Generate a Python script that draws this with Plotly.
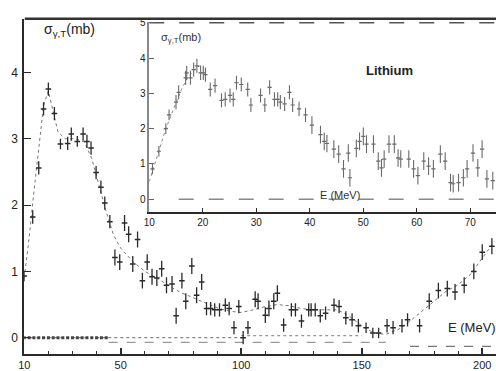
import plotly.graph_objects as go

# ---------------- data ----------------
main_E = [10, 13.5, 16, 18, 20, 22.5, 25, 28, 29.5, 32, 34.4, 36, 37.7, 39.8, 41.8,
          43.4, 45.5, 47.6, 49.6, 51.6, 53.3, 55, 57, 59, 61, 63, 65, 67, 69, 71.3,
          73, 75.4, 77, 79.5, 81.5, 83.6, 85.6, 87.3, 89, 91, 93.4, 95, 97, 99, 100.8,
          102.8, 105.8, 107, 110, 111.5, 113.5, 115, 117.6, 120.8, 122.5, 125, 128, 129,
          130.7, 132.8, 135, 138.5, 140.6, 143.4, 146, 148.6, 151.8, 154.6, 157, 160.5,
          163, 166.7, 169, 174, 178, 181.8, 185.5, 188.7, 192.5, 196.5, 200, 204]
main_sigma = [0.93, 1.82, 2.56, 3.45, 3.75, 3.38, 2.92, 2.93, 3.07, 2.96, 3.07, 2.96, 2.86,
              2.49, 2.27, 2.03, 1.75, 1.21, 1.14, 1.73, 1.56, 1.11, 1.48, 0.86, 1.14, 0.92,
              0.90, 1.04, 0.79, 0.81, 0.33, 0.86, 0.55, 1.08, 0.64, 0.84, 0.44, 0.44, 0.42,
              0.42, 0.49, 0.44, 0.15, 0.47, 0.0, 0.15, 0.58, 0.55, 0.34, 0.44, 0.55, 0.67,
              0.19, 0.42, 0.42, 0.25, 0.42, 0.42, 0.42, 0.33, 0.37, 0.49, 0.47, 0.30, 0.27,
              0.18, 0.15, 0.07, 0.07, 0.18, 0.15, 0.18, 0.27, 0.18, 0.55, 0.71, 0.74, 0.69,
              0.79, 1.0, 1.29, 1.38]
main_err = [0.08, 0.1, 0.1, 0.1, 0.1, 0.1, 0.08, 0.1, 0.1, 0.08, 0.1, 0.1, 0.1, 0.1, 0.1,
            0.1, 0.1, 0.12, 0.12, 0.12, 0.12, 0.12, 0.12, 0.12, 0.12, 0.12, 0.12, 0.12, 0.12,
            0.12, 0.12, 0.12, 0.12, 0.12, 0.12, 0.12, 0.1, 0.1, 0.1, 0.1, 0.1, 0.1, 0.1, 0.1,
            0.1, 0.1, 0.12, 0.12, 0.12, 0.12, 0.12, 0.12, 0.1, 0.1, 0.1, 0.1, 0.1, 0.1, 0.1,
            0.1, 0.1, 0.1, 0.1, 0.1, 0.1, 0.1, 0.08, 0.08, 0.08, 0.1, 0.1, 0.1, 0.1, 0.1,
            0.12, 0.12, 0.12, 0.12, 0.12, 0.12, 0.12, 0.12]

fit_E = [10, 12, 14, 16, 18, 20, 22, 24, 27, 31, 35, 38, 41, 44, 47, 50, 55, 60, 65, 70,
         75, 80, 85, 90, 95, 100, 105, 110, 115, 120, 125, 130, 135, 140, 145, 150, 155,
         160, 165, 170, 175, 180, 185, 190, 195, 200, 205]
fit_sigma = [0.9, 1.5, 2.2, 2.9, 3.5, 3.72, 3.4, 3.1, 3.0, 3.0, 2.95, 2.7, 2.3, 1.9, 1.55,
             1.35, 1.15, 1.0, 0.9, 0.78, 0.68, 0.6, 0.52, 0.45, 0.4, 0.38, 0.42, 0.47, 0.5,
             0.48, 0.44, 0.42, 0.42, 0.42, 0.32, 0.18, 0.07, 0.05, 0.12, 0.25, 0.4, 0.55,
             0.7, 0.8, 0.95, 1.2, 1.45]

bkg_E = [10, 12, 14, 16, 18, 20, 22, 24, 26, 28, 30, 32, 34, 36, 38, 40, 42, 44]
bkg_sigma = [0, 0, 0, 0, 0, 0, 0, 0, 0, 0, 0, 0, 0, 0, 0, 0, 0, 0]

base1_E = [10, 100]
base1_sigma = [0.0, 0.0]
base2_E = [45, 160]
base2_sigma = [-0.07, -0.07]
base3_E = [100, 150]
base3_sigma = [0.03, 0.03]
base4_E = [170, 206]
base4_sigma = [-0.13, -0.13]

inset_E = [10.6, 11.8, 13.1, 13.7, 15, 15.5, 16.8, 17, 17.7, 18.3, 18.9, 19.6, 20.1, 20.5,
           21.4, 22.3, 23.5, 24.2, 25.1, 25.7, 26.3, 27.2, 28.4, 29, 30.8, 31.6, 32.5, 33.4,
           34, 34.5, 35.3, 36.2, 36.8, 38, 39.2, 40.4, 42, 42.7, 43.2, 44.5, 45.4, 46.3,
           47.2, 47.5, 48.7, 49.3, 50, 50.6, 51.9, 52.8, 53.4, 53.9, 54.8, 55.8, 56.5, 57,
           58.5, 59.4, 60.2, 61.3, 62.2, 63.1, 64.4, 65.3, 66.3, 66.8, 67.8, 68.7, 69.4,
           70.5, 71.4, 72.2, 73.1, 74.2]
inset_sigma = [0.86, 1.36, 2.0, 2.39, 2.75, 3.03, 3.44, 3.58, 3.44, 3.67, 3.78, 3.58, 3.58,
               3.53, 3.11, 3.22, 2.8, 2.83, 2.94, 2.83, 3.3, 3.25, 3.11, 2.67, 2.94, 2.67,
               3.17, 2.83, 2.83, 2.75, 2.7, 3.03, 2.67, 2.56, 2.39, 2.1, 1.83, 1.64, 1.58,
               1.42, 1.28, 0.86, 1.31, 0.61, 1.44, 1.64, 1.78, 1.56, 1.56, 1.08, 0.89, 1.14,
               1.56, 1.56, 1.17, 1.14, 1.14, 0.86, 0.67, 1.08, 0.94, 0.86, 1.28, 1.08, 0.47,
               0.44, 0.47, 0.61, 0.86, 1.31, 0.89, 1.42, 0.58, 0.53]
inset_err = [0.15, 0.15, 0.15, 0.15, 0.2, 0.2, 0.2, 0.2, 0.2, 0.2, 0.2, 0.2, 0.2, 0.2,
             0.2, 0.2, 0.2, 0.2, 0.2, 0.2, 0.2, 0.2, 0.2, 0.2, 0.2, 0.2, 0.2, 0.2,
             0.2, 0.2, 0.2, 0.2, 0.2, 0.2, 0.2, 0.25, 0.25, 0.25, 0.25, 0.25, 0.25, 0.25,
             0.25, 0.25, 0.25, 0.25, 0.25, 0.25, 0.25, 0.25, 0.25, 0.25, 0.25, 0.25, 0.25,
             0.25, 0.25, 0.25, 0.25, 0.25, 0.25, 0.25, 0.25, 0.25, 0.25, 0.25, 0.25, 0.25,
             0.25, 0.25, 0.25, 0.25, 0.25, 0.25]

inset_fit_E = [10, 11, 12, 13, 14, 15, 16, 17, 18, 19, 20]
inset_fit_sigma = [0.5, 1.0, 1.5, 1.95, 2.35, 2.75, 3.1, 3.4, 3.6, 3.75, 3.8]

inset_zero_E = [15.5, 75]
inset_zero_sigma = [0, 0]
inset_top_E = [10, 75]
inset_top_sigma = [5, 5]

main_xticks = [10, 50, 100, 150, 200]
main_xminor = [20, 30, 40, 60, 70, 80, 90, 110, 120, 130, 140, 160, 170, 180, 190]
main_yticks = [0, 1, 2, 3, 4]
inset_xticks = [10, 20, 30, 40, 50, 60, 70]
inset_yticks = [0, 1, 2, 3, 4, 5]

# ---------------- figure ----------------
W, H = 496, 371
fig = go.Figure()

dark = "#2a2a2a"
grey = "#6a6a6a"

# main plot
fig.add_trace(go.Scatter(x=fit_E, y=fit_sigma, mode="lines",
                         line=dict(color="#777", width=1, dash="dot"),
                         xaxis="x", yaxis="y", hoverinfo="skip"))
for xs, ys, col, dash in [(base1_E, base1_sigma, "#888", "dot"),
                          (base2_E, base2_sigma, "#999", "dash"),
                          (base3_E, base3_sigma, "#999", "dot"),
                          (base4_E, base4_sigma, "#777", "dash")]:
    fig.add_trace(go.Scatter(x=xs, y=ys, mode="lines",
                             line=dict(color=col, width=1.2, dash=dash),
                             xaxis="x", yaxis="y", hoverinfo="skip"))
fig.add_trace(go.Scatter(x=bkg_E, y=bkg_sigma, mode="markers",
                         marker=dict(symbol="square", size=3, color="#444"),
                         xaxis="x", yaxis="y"))
fig.add_trace(go.Scatter(x=main_E, y=main_sigma, mode="markers",
                         marker=dict(symbol="line-ew", size=4,
                                     line=dict(width=1.5, color=dark)),
                         error_y=dict(type="data", array=main_err, color=dark,
                                      thickness=1.3, width=0),
                         xaxis="x", yaxis="y"))

# inset
fig.add_trace(go.Scatter(x=inset_zero_E, y=inset_zero_sigma, mode="lines",
                         line=dict(color="#888", width=1.5, dash="longdash"),
                         xaxis="x2", yaxis="y2", hoverinfo="skip"))
fig.add_trace(go.Scatter(x=inset_top_E, y=inset_top_sigma, mode="lines",
                         line=dict(color="#555", width=1.5, dash="longdash"),
                         xaxis="x2", yaxis="y2", hoverinfo="skip"))
fig.add_trace(go.Scatter(x=inset_fit_E, y=inset_fit_sigma, mode="lines",
                         line=dict(color="#888", width=1, dash="dot"),
                         xaxis="x2", yaxis="y2", hoverinfo="skip"))
fig.add_trace(go.Scatter(x=inset_E, y=inset_sigma, mode="markers",
                         marker=dict(symbol="line-ew", size=3,
                                     line=dict(width=1.2, color=grey)),
                         error_y=dict(type="data", array=inset_err, color=grey,
                                      thickness=1.1, width=0),
                         xaxis="x2", yaxis="y2"))

fnt = "Liberation Sans, Arial, sans-serif"

def px_x(p):
    return p / W

def px_y(p):
    return 1 - p / H

fig.update_layout(
    width=W, height=H, margin=dict(l=0, r=0, t=0, b=0),
    paper_bgcolor="white", plot_bgcolor="rgba(0,0,0,0)",
    showlegend=False, font=dict(family=fnt, color="#222"),
    xaxis=dict(domain=[px_x(18.5), 1], range=[10, 205.7], showgrid=False,
               zeroline=False, showline=True, linecolor=dark, linewidth=2,
               ticks="inside", ticklen=6, tickwidth=1.5, tickcolor=dark,
               tickvals=main_xticks, tickfont=dict(size=11),
               minor=dict(ticks="inside", ticklen=3, tickvals=main_xminor,
                          tickcolor=dark, tickwidth=1)),
    yaxis=dict(domain=[px_y(357), px_y(15)], range=[-0.25, 4.81], showgrid=False,
               zeroline=False, showline=True, linecolor=dark, linewidth=2,
               ticks="inside", ticklen=7, tickwidth=1.2, tickcolor=dark,
               tickvals=main_yticks, tickfont=dict(size=12), ticklabelstandoff=2),
    xaxis2=dict(domain=[px_x(145), 1], range=[10, 74.8], anchor="y2",
                showgrid=False, zeroline=False, showline=True, linecolor=dark,
                linewidth=1.5, ticks="inside", ticklen=4, tickcolor=dark,
                tickvals=inset_xticks, tickfont=dict(size=10)),
    yaxis2=dict(domain=[px_y(212), px_y(18)], range=[-0.36, 5.03], anchor="x2",
                showgrid=False, zeroline=False, showline=True, linecolor="#888",
                linewidth=1.5, ticks="inside", ticklen=5, tickcolor="#666",
                tickvals=inset_yticks, tickfont=dict(size=10)),
    shapes=[dict(type="line", xref="paper", yref="paper",
                 x0=px_x(19), x1=1, y0=px_y(15), y1=px_y(15),
                 line=dict(color="#333", width=2.5))],
    annotations=[
        dict(text="σ<sub>γ,T</sub>(mb)", xref="paper", yref="paper",
             x=px_x(36), y=px_y(26), xanchor="left", yanchor="middle",
             showarrow=False, font=dict(size=14, color="#222")),
        dict(text="σ<sub>γ,T</sub>(mb)", xref="paper", yref="paper",
             x=px_x(155), y=px_y(35), xanchor="left", yanchor="middle",
             showarrow=False, font=dict(size=11, color="#333")),
        dict(text="<b>Lithium</b>", xref="paper", yref="paper",
             x=px_x(362), y=px_y(68), xanchor="left", yanchor="middle",
             showarrow=False, font=dict(size=13, color="#222")),
        dict(text="E (MeV)", xref="paper", yref="paper",
             x=px_x(445), y=px_y(330), xanchor="left", yanchor="middle",
             showarrow=False, font=dict(size=13, color="#222")),
        dict(text="E (MeV)", xref="paper", yref="paper",
             x=px_x(316), y=px_y(195), xanchor="left", yanchor="middle",
             showarrow=False, font=dict(size=11, color="#333")),
    ],
)

fig.write_html("out.html")
